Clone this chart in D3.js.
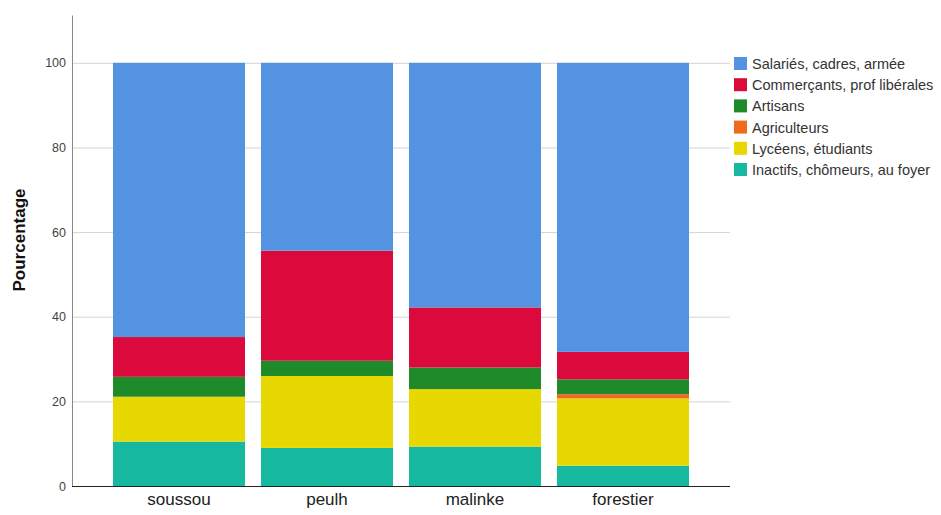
<!DOCTYPE html>
<html><head><meta charset="utf-8">
<script src="https://cdn.jsdelivr.net/npm/d3@7"></script>
<style>body{margin:0;background:#fff;} svg{display:block;}</style>
</head><body>
<svg id="chart" width="941" height="515"></svg>
<script>
const categories = ["soussou", "peulh", "malinke", "forestier"];
const seriesNames = ["Inactifs, chômeurs, au foyer", "Lycéens, étudiants", "Agriculteurs", "Artisans", "Commerçants, prof libérales", "Salariés, cadres, armée"];
const inactifs = [10.5, 9.0, 9.3, 4.8];
const lyceens = [10.6, 17.0, 13.6, 15.9];
const agriculteurs = [0, 0, 0, 1.0];
const artisans = [4.7, 3.6, 5.1, 3.5];
const commercants = [9.4, 26.0, 14.2, 6.5];
const salaries = [64.8, 44.4, 57.8, 68.3];
const yTicks = [0, 20, 40, 60, 80, 100];
const legendOrder = ["Salariés, cadres, armée", "Commerçants, prof libérales", "Artisans", "Agriculteurs", "Lycéens, étudiants", "Inactifs, chômeurs, au foyer"];
const colors = ["#16b8a0", "#e6d800", "#f06a1e", "#1f8a2a", "#dc0a3c", "#5393e2"];

(function () {
const seriesValues = [inactifs, lyceens, agriculteurs, artisans, commercants, salaries];
const table = categories.map((c, i) => {
  const row = {cat: c};
  seriesNames.forEach((s, j) => row[s] = seriesValues[j][i]);
  return row;
});
const stacked = d3.stack().keys(seriesNames)(table);

const svg = d3.select("#chart");
const mLeft = 72, mRight = 730, mTop = 15, mBottom = 486;
const font = "Liberation Sans, Arial, sans-serif";
const x = d3.scaleBand().domain(categories).range([mLeft, mRight]).paddingInner(0.108).paddingOuter(0.277);
const y = d3.scaleLinear().domain([0, 111.3]).range([mBottom, mTop]);
const color = d3.scaleOrdinal().domain(seriesNames).range(colors);

svg.append("g").selectAll("line").data(yTicks.filter(t => t > 0)).join("line")
  .attr("x1", mLeft).attr("x2", mRight)
  .attr("y1", d => y(d) + 0.5).attr("y2", d => y(d) + 0.5)
  .attr("stroke", "#d4d4d4").attr("stroke-width", 1);

svg.append("g").selectAll("g").data(stacked).join("g")
  .attr("fill", d => color(d.key))
  .selectAll("rect").data(d => d).join("rect")
  .attr("x", d => x(d.data.cat))
  .attr("width", x.bandwidth())
  .attr("y", d => y(d[1]))
  .attr("height", d => y(d[0]) - y(d[1]));

const yAxis = svg.append("g").attr("transform", `translate(${mLeft},0)`)
  .call(d3.axisLeft(y).tickValues(yTicks).tickSize(0).tickPadding(6));
yAxis.select(".domain").attr("stroke", "#888");
yAxis.selectAll("text").attr("font-family", font).attr("font-size", 12.5).attr("fill", "#444");

const xAxis = svg.append("g").attr("transform", `translate(0,${mBottom})`)
  .call(d3.axisBottom(x).tickSize(0).tickPadding(7));
xAxis.select(".domain").attr("stroke", "#222").attr("d", `M${mLeft},0.5H${mRight}`);
xAxis.selectAll("text").attr("font-family", font).attr("font-size", 17).attr("fill", "#222");

svg.append("text").attr("transform", `translate(25,240) rotate(-90)`)
  .attr("text-anchor", "middle").attr("font-family", font)
  .attr("font-size", 17).attr("font-weight", "bold").attr("fill", "#111").text("Pourcentage");

const lg = svg.append("g").attr("transform", "translate(734,57)");
const items = lg.selectAll("g").data(legendOrder).join("g")
  .attr("transform", (d, i) => `translate(0,${i * 21.2})`);
items.append("rect").attr("width", 13).attr("height", 13).attr("fill", d => color(d));
items.append("text").attr("x", 18).attr("y", 12).attr("font-family", font)
  .attr("font-size", 14.5).attr("fill", "#333").text(d => d);
})();
</script>
</body></html>
